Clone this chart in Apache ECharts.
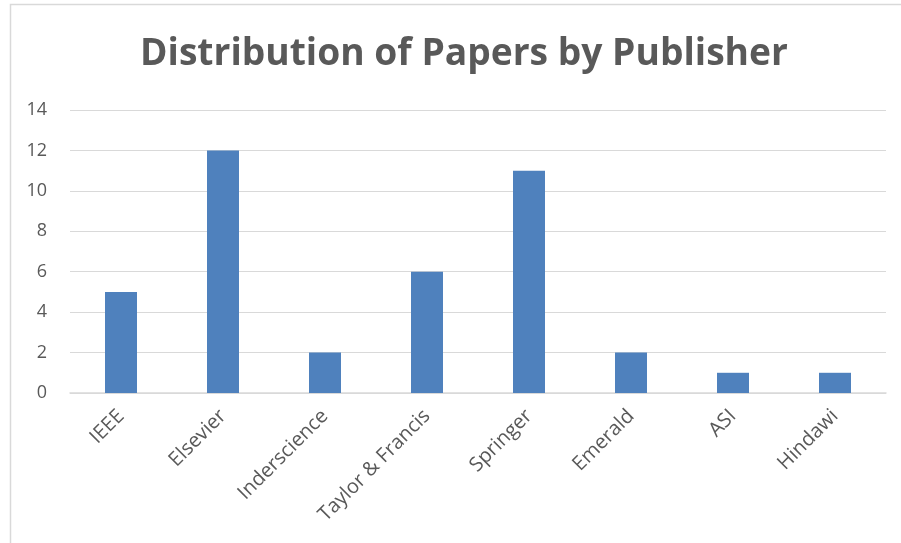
<!DOCTYPE html>
<html>
<head>
<meta charset="utf-8">
<script src="https://cdn.jsdelivr.net/npm/echarts@6/dist/echarts.min.js"></script>
<style>
  html, body { margin: 0; padding: 0; background: #fff; }
  #chart { width: 901px; height: 543px; }
</style>
</head>
<body>
<div id="chart"></div>
<script>
const publishers = ["IEEE", "Elsevier", "Inderscience", "Taylor & Francis", "Springer", "Emerald", "ASI", "Hindawi"];
const paperCounts = [5, 12, 2, 6, 11, 2, 1, 1];

const chart = echarts.init(document.getElementById("chart"));

chart.setOption({
  animation: false,
  backgroundColor: "#ffffff",
  title: {
    text: "Distribution of Papers by Publisher",
    left: 135,
    top: 31,
    textStyle: {
      fontFamily: "Open Sans",
      fontWeight: "bold",
      fontSize: 37.2,
      color: "#595959",
    },
  },
  graphic: [
    {
      type: "rect",
      shape: { x: 10.5, y: 4.5, width: 1000, height: 1000 },
      style: { fill: "none", stroke: "#d9d9d9", lineWidth: 1.5 },
      silent: true,
    },
  ],
  grid: {
    left: 70,
    right: 15,
    top: 110,
    bottom: 150,
  },
  xAxis: {
    type: "category",
    data: publishers,
    axisLine: { lineStyle: { color: "#d9d9d9", width: 1.5 } },
    axisTick: { show: false },
    axisLabel: {
      rotate: 45,
      interval: 0,
      margin: 20,
      fontFamily: "Open Sans",
      fontSize: 20,
      color: "#595959",
    },
  },
  yAxis: {
    type: "value",
    min: 0,
    max: 14,
    interval: 2,
    axisLine: { show: false },
    axisTick: { show: false },
    splitLine: { lineStyle: { color: "#d9d9d9", width: 1.2 } },
    axisLabel: {
      margin: 23,
      fontFamily: "Open Sans",
      fontSize: 18,
      color: "#595959",
    },
  },
  series: [
    {
      type: "bar",
      data: paperCounts,
      barWidth: 32,
      itemStyle: { color: "#4f81bd" },
    },
  ],
});
</script>
</body>
</html>
